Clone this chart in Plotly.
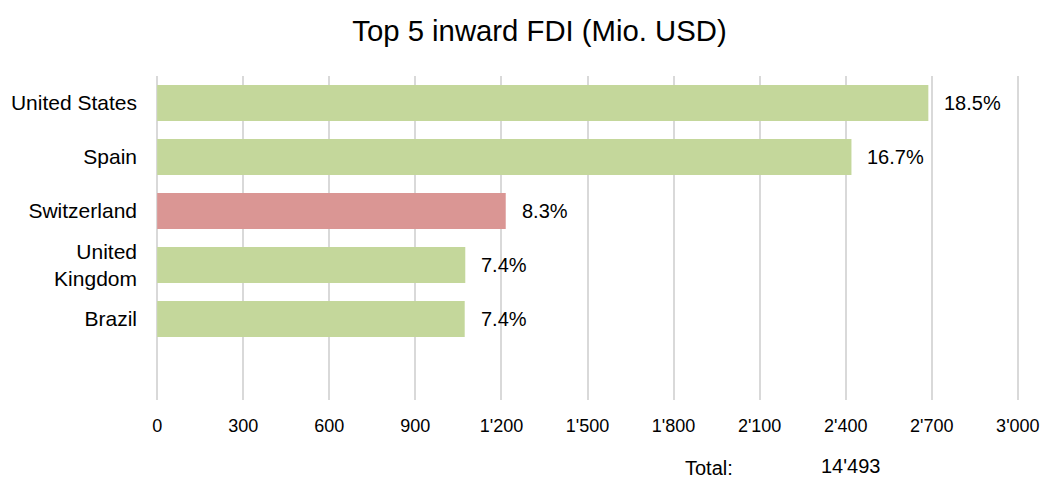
import plotly.graph_objects as go

countries = ["United States", "Spain", "Switzerland", "United<br>Kingdom", "Brazil"]
values = [2688, 2420, 1215, 1074, 1072]
shares = ["18.5%", "16.7%", "8.3%", "7.4%", "7.4%"]
colors = ["#C4D79B", "#C4D79B", "#DA9694", "#C4D79B", "#C4D79B"]
tick_vals = [0, 300, 600, 900, 1200, 1500, 1800, 2100, 2400, 2700, 3000]
tick_text = ["0", "300", "600", "900", "1'200", "1'500", "1'800", "2'100", "2'400", "2'700", "3'000"]
total_label = "Total:"
total_value = "14'493"
title = "Top 5 inward FDI (Mio. USD)"

FONT = "Liberation Sans, Arial, sans-serif"
W, H = 1042, 478
L, R, T, B = 156, 23, 76, 78

fig = go.Figure()
fig.add_trace(go.Bar(
    y=list(range(len(countries))), x=values, orientation="h",
    marker=dict(color=colors, line=dict(width=0)), width=0.667,
    hoverinfo="skip",
))

for i, (v, s) in enumerate(zip(values, shares)):
    fig.add_annotation(x=v, y=i, text=s, showarrow=False, xanchor="left",
                       xshift=14, font=dict(size=20, color="#000", family=FONT))

pw = W - L - R
ph = H - T - B
fig.add_annotation(x=(709 - L) / pw, y=-(468 - (H - B)) / ph,
                   xref="paper", yref="paper", text=total_label, showarrow=False,
                   xanchor="center", yanchor="middle",
                   font=dict(size=20, color="#000", family=FONT))
fig.add_annotation(x=(850 - L) / pw, y=-(466 - (H - B)) / ph,
                   xref="paper", yref="paper", text=total_value, showarrow=False,
                   xanchor="center", yanchor="middle",
                   font=dict(size=20, color="#000", family=FONT))

fig.update_layout(
    width=W, height=H,
    margin=dict(l=L, r=R, t=T, b=B, autoexpand=False),
    paper_bgcolor="white", plot_bgcolor="white",
    showlegend=False,
    title=dict(text=title, x=539.5 / W, xanchor="center", y=1 - 31 / H, yanchor="middle",
               font=dict(size=29.3, color="#000", family=FONT)),
    xaxis=dict(range=[-4, 3004], tickvals=tick_vals, ticktext=tick_text,
               showgrid=True, gridcolor="#D9D9D9", gridwidth=2, zeroline=False,
               showline=False, ticks="", ticklabelstandoff=13, automargin=False,
               tickfont=dict(size=18, color="#000", family=FONT), fixedrange=True),
    yaxis=dict(range=[5.5, -0.5], tickvals=list(range(len(countries))), ticktext=countries,
               showgrid=False, zeroline=False, showline=False, ticks="",
               ticklabelstandoff=18, automargin=False,
               tickfont=dict(size=21, color="#000", family=FONT), fixedrange=True),
    font=dict(family=FONT),
)

fig.write_html("out.html", config={"displayModeBar": False})
